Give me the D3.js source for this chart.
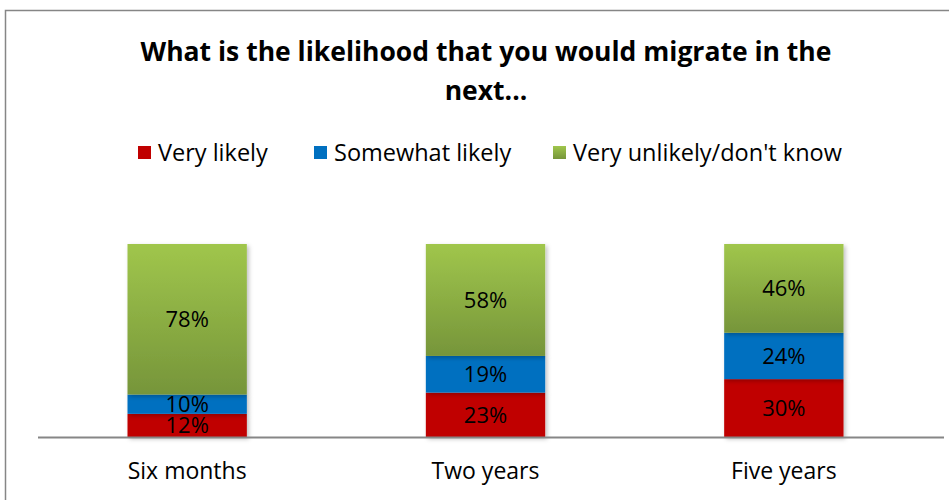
<!DOCTYPE html>
<html>
<head>
<meta charset="utf-8">
<script src="https://cdn.jsdelivr.net/npm/d3@7"></script>
<style>
  html, body { margin: 0; padding: 0; background: #fff; }
  svg { display: block; font-family: "Open Sans", "Noto Sans", sans-serif; }
</style>
</head>
<body>
<svg id="chart" width="949" height="500"></svg>
<script>
// Survey: likelihood of migrating within each time horizon (percent of respondents)
const categories = ["Six months", "Two years", "Five years"];
const seriesNames = ["Very likely", "Somewhat likely", "Very unlikely/don't know"];
const veryLikely = [12, 23, 30];
const somewhatLikely = [10, 19, 24];
const veryUnlikely = [78, 58, 46];
const titleLines = ["What is the likelihood that you would migrate in the", "next..."];

const W = 949, H = 500;
const svg = d3.select("#chart");

const defs = svg.append("defs");
const grad = defs.append("linearGradient")
  .attr("id", "greenGrad").attr("x1", 0).attr("y1", 0).attr("x2", 0).attr("y2", 1);
grad.append("stop").attr("offset", "0%").attr("stop-color", "#a0c64c");
grad.append("stop").attr("offset", "100%").attr("stop-color", "#76953a");

const shadow = defs.append("filter").attr("id", "barShadow")
  .attr("x", "-10%").attr("y", "-10%").attr("width", "130%").attr("height", "130%");
shadow.append("feDropShadow").attr("dx", 2).attr("dy", 2).attr("stdDeviation", 2)
  .attr("flood-color", "#000").attr("flood-opacity", 0.25);

const colors = ["#c00000", "#0070c0", "url(#greenGrad)"];

// chart frame (left and top edges visible)
svg.append("path")
  .attr("d", `M5.5,${H} L5.5,10.5 L${W},10.5`)
  .attr("fill", "none").attr("stroke", "#868686").attr("stroke-width", 1.5);

// title
svg.append("g").selectAll("text").data(titleLines).join("text")
  .attr("x", 486).attr("y", (d, i) => 61 + i * 39)
  .attr("text-anchor", "middle")
  .attr("font-size", 26.5).attr("font-weight", "bold").attr("fill", "#000")
  .text(d => d);

// scales
const x = d3.scaleBand().domain(categories).range([38, 933]).paddingInner(0.6).paddingOuter(0.3);
const y = d3.scaleLinear().domain([0, 100]).range([437, 244]);

const rows = categories.map((c, i) => ({
  cat: c, "Very likely": veryLikely[i], "Somewhat likely": somewhatLikely[i],
  "Very unlikely/don't know": veryUnlikely[i]
}));
const stacked = d3.stack().keys(seriesNames)(rows);

const g = svg.append("g");
stacked.forEach((layer, li) => {
  g.append("g").attr("filter", "url(#barShadow)")
    .selectAll("rect").data(layer).join("rect")
    .attr("x", d => x(d.data.cat))
    .attr("width", x.bandwidth())
    .attr("y", d => y(d[1]))
    .attr("height", d => y(d[0]) - y(d[1]))
    .attr("fill", colors[li]);
});

// value labels, centred in each segment
stacked.forEach(layer => {
  g.append("g").selectAll("text").data(layer).join("text")
    .attr("x", d => x(d.data.cat) + x.bandwidth() / 2)
    .attr("y", d => (y(d[0]) + y(d[1])) / 2)
    .attr("dy", "0.36em")
    .attr("text-anchor", "middle")
    .attr("font-size", 22).attr("fill", "#000")
    .text(d => (d[1] - d[0]) + "%");
});

// x axis
const xAxis = svg.append("g").attr("transform", `translate(0,${y(0)})`)
  .call(d3.axisBottom(x).tickSize(0).tickPadding(26));
xAxis.select(".domain").remove();
xAxis.append("line").attr("x1", 38).attr("x2", 944).attr("y1", 0.5).attr("y2", 0.5)
  .attr("stroke", "#868686").attr("stroke-width", 2);
xAxis.selectAll(".tick text")
  .attr("font-size", 23).attr("fill", "#000")
  .attr("font-family", "\"Open Sans\", \"Noto Sans\", sans-serif");

// legend
const legendX = [138, 314, 553];
const legend = svg.append("g").selectAll("g").data(seriesNames).join("g")
  .attr("transform", (d, i) => `translate(${legendX[i]},146)`);
legend.append("rect").attr("width", 13).attr("height", 13)
  .attr("fill", (d, i) => colors[i]);
legend.append("text").attr("x", 20).attr("y", 15)
  .attr("font-size", 23.5).attr("fill", "#000").text(d => d);
</script>
</body>
</html>
